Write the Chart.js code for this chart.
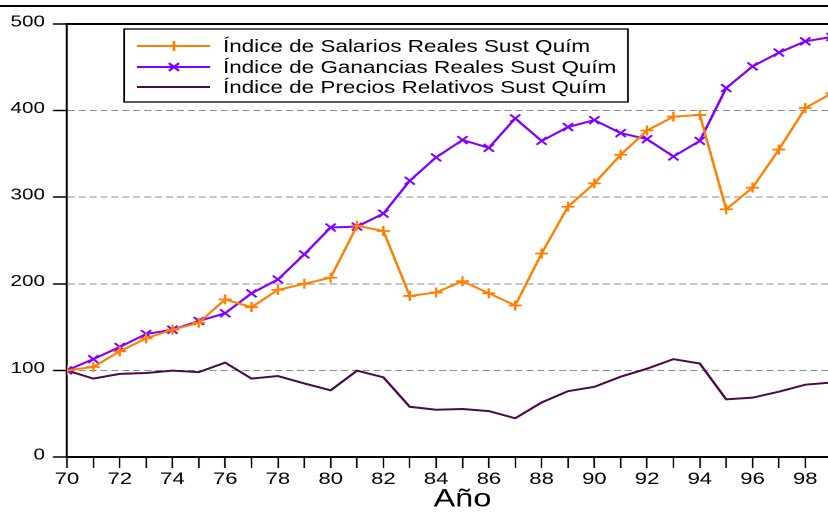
<!DOCTYPE html>
<html>
<head>
<meta charset="utf-8">
<script src="https://cdn.jsdelivr.net/npm/chart.js@4"></script>
<style>
  html, body { margin: 0; padding: 0; background: #fff; overflow: hidden; }
  /* the original graph is stretched sideways, so draw narrow and widen it */
  #wrap {
    position: absolute; left: 0; top: 0;
    width: 670px; height: 512px;
    transform: scaleX(1.3); transform-origin: 0 0;
  }
</style>
</head>
<body>
<div id="wrap"><canvas id="indexChart"></canvas></div>
<script>
// Years (19xx), data
const years = [70, 71, 72, 73, 74, 75, 76, 77, 78, 79, 80, 81, 82, 83, 84,
  85, 86, 87, 88, 89, 90, 91, 92, 93, 94, 95, 96, 97, 98, 99];

const salarios = [100, 104, 122, 137, 147, 155, 182, 173, 193, 200, 207, 267,
  261, 186, 190, 203, 189, 175, 235, 289, 316, 349, 377, 393, 395, 286, 311,
  355, 403, 420];

const ganancias = [100, 113, 127, 142, 147, 157, 166, 189, 205, 234, 265, 266,
  281, 319, 346, 366, 357, 391, 365, 381, 389, 374, 367, 347, 365, 426, 451,
  467, 480, 485];

const precios = [100, 90.5, 96, 97, 99.7, 98, 109, 90.5, 93.5, 85, 77, 99.7,
  92, 58, 54.6, 55.4, 53, 44.7, 63, 76, 81, 92.7, 102, 113, 108, 66.6, 68.5,
  75.4, 83.5, 86];

const seriesLabels = [
  "Índice de Salarios Reales Sust Quím",
  "Índice de Ganancias Reales Sust Quím",
  "Índice de Precios Relativos Sust Quím",
];
const xTitle = "Año";
const yTicks = [0, 100, 200, 300, 400, 500];

const FONT = '"Liberation Sans", Arial, sans-serif';

function toPoints(values) {
  return values.map((v, i) => ({ x: years[i], y: v }));
}

// Frame line at the top, plot top border and boxed legend
const framePlugin = {
  id: "frame",
  afterDraw(chart) {
    const { ctx, chartArea } = chart;
    ctx.save();
    ctx.strokeStyle = "#000";
    ctx.lineWidth = 2;
    ctx.beginPath();
    ctx.moveTo(0, 6);
    ctx.lineTo(chart.width, 6);
    ctx.moveTo(chartArea.left, chartArea.top);
    ctx.lineTo(chartArea.right, chartArea.top);
    ctx.stroke();

    // legend
    const bx = 95.4, by = 29, bw = 387.7, bh = 73;
    ctx.fillStyle = "#fff";
    ctx.fillRect(bx, by, bw, bh);
    ctx.lineWidth = 1.3;
    ctx.strokeRect(bx, by, bw, bh);
    const rows = [46, 67, 87];
    chart.data.datasets.forEach((ds, i) => {
      const y = rows[i];
      ctx.strokeStyle = ds.borderColor;
      ctx.lineWidth = 2;
      ctx.beginPath();
      ctx.moveTo(105.4, y);
      ctx.lineTo(161.5, y);
      ctx.stroke();
      if (ds.pointRadius > 0) {
        Chart.helpers.drawPoint(ctx, {
          pointStyle: ds.pointStyle,
          radius: ds.pointRadius,
          borderWidth: 1.8,
          rotation: 0,
        }, 133.8, y);
      }
      ctx.fillStyle = "#000";
      ctx.font = "17.3px " + FONT;
      ctx.textBaseline = "middle";
      ctx.textAlign = "left";
      ctx.fillText(ds.label, 171.5, y + 1);
    });
    ctx.restore();
  },
};

document.addEventListener("DOMContentLoaded", () => {
  const ctx = document.getElementById("indexChart");

  new Chart(ctx, {
    type: "line",
    data: {
      datasets: [
        {
          label: seriesLabels[0],
          data: toPoints(salarios),
          borderColor: "#ff8000",
          backgroundColor: "#ff8000",
          borderWidth: 2,
          pointStyle: "cross",
          pointRadius: 5,
          pointBorderWidth: 1.8,
          tension: 0,
        },
        {
          label: seriesLabels[1],
          data: toPoints(ganancias),
          borderColor: "#8000ff",
          backgroundColor: "#8000ff",
          borderWidth: 2,
          pointStyle: "crossRot",
          pointRadius: 5.5,
          pointBorderWidth: 1.8,
          tension: 0,
        },
        {
          label: seriesLabels[2],
          data: toPoints(precios),
          borderColor: "#4a0a4a",
          backgroundColor: "#4a0a4a",
          borderWidth: 2,
          pointRadius: 0,
          tension: 0,
        },
      ],
    },
    options: {
      responsive: true,
      maintainAspectRatio: false,
      animation: false,
      devicePixelRatio: 2,
      layout: { padding: { top: 24, right: 10, left: 0, bottom: 0 } },
      plugins: {
        legend: { display: false },
        tooltip: { enabled: false },
      },
      scales: {
        x: {
          type: "linear",
          min: 70,
          max: 100,
          afterFit: (s) => { s.height = 55; },
          ticks: {
            stepSize: 1,
            autoSkip: false,
            maxRotation: 0,
            padding: 1,
            color: "#000",
            font: { family: FONT, size: 17 },
            callback: (v) => (v % 2 === 0 && v < 100 ? String(v) : ""),
          },
          grid: {
            drawOnChartArea: false,
            tickLength: 11,
            tickColor: "#000",
            tickWidth: 1.2,
          },
          border: { color: "#000", width: 2 },
          title: {
            display: true,
            text: xTitle,
            color: "#000",
            font: { family: FONT, size: 25, lineHeight: 1 },
            padding: { top: 0, bottom: 0 },
          },
        },
        y: {
          min: 0,
          max: 500,
          afterFit: (s) => { s.width = 51.5; },
          afterBuildTicks: (s) => { s.ticks = yTicks.map((v) => ({ value: v })); },
          ticks: {
            padding: 6,
            labelOffset: -2,
            color: "#000",
            font: { family: FONT, size: 16 },
          },
          grid: {
            color: (c) =>
              c.tick && c.tick.value > 0 && c.tick.value < 500 ? "#8c8c8c" : "rgba(0,0,0,0)",
            lineWidth: 1,
            tickLength: 10.8,
            tickColor: "#000",
            tickWidth: 1.5,
          },
          border: { color: "#000", width: 1.6, dash: [5.4, 3] },
        },
      },
    },
    plugins: [framePlugin],
  });
});
</script>
</body>
</html>
